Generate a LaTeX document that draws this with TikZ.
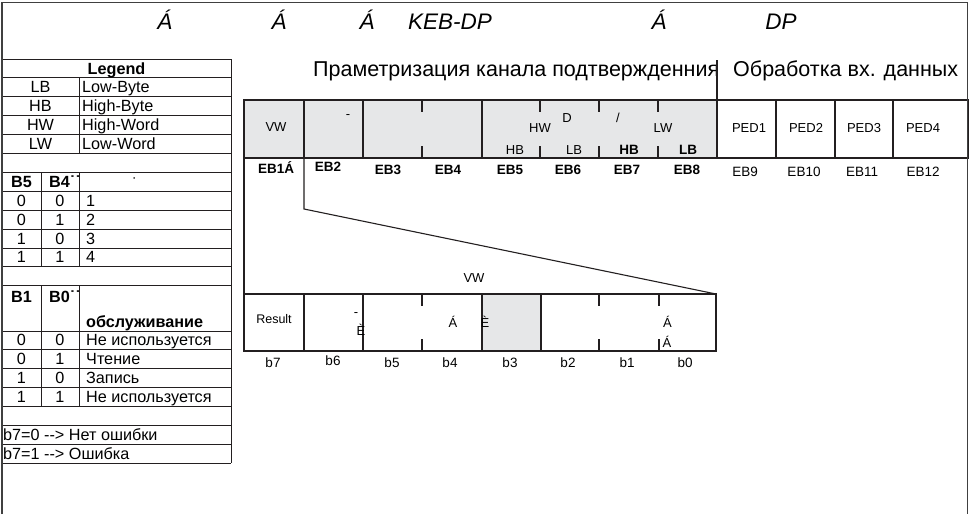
\documentclass[tikz,border=0pt]{standalone}
\usepackage{fontspec}
\setmainfont{Liberation Sans}
\definecolor{cellgray}{HTML}{E6E7E8}
\definecolor{linec}{HTML}{231F20}
\definecolor{framec}{HTML}{404040}
\begin{document}
\begin{tikzpicture}[x=1pt,y=-1pt,
 regcell/.style={draw=linec, line width=1.1pt, inner sep=0pt, outer sep=0pt, anchor=north west},
 graycell/.style={regcell, fill=cellgray},
 tickln/.style={draw=linec, line width=1.1pt},
 conn/.style={draw=linec, line width=1.1pt},
 tline/.style={draw=linec, line width=0.9pt},
 frameln/.style={draw=framec, line width=1.6pt},
 ttl/.style={inner sep=0pt, anchor=base, font=\fontsize{22.5}{27}\selectfont\itshape},
 hdr/.style={inner sep=0pt, anchor=base west, font=\fontsize{21.5}{26}\selectfont},
 leg/.style={inner sep=0pt, anchor=base, font=\fontsize{16.2}{19}\selectfont},
 legw/.style={leg, anchor=base west},
 legb/.style={inner sep=0pt, anchor=base, font=\fontsize{16.2}{19}\selectfont\bfseries},
 legbw/.style={legb, anchor=base west},
 ctxt/.style={inner sep=0pt, anchor=base, font=\fontsize{13}{16}\selectfont},
 ctxtb/.style={inner sep=0pt, anchor=base, font=\fontsize{13.5}{16}\selectfont\bfseries},
 ctxtl/.style={inner sep=0pt, anchor=base, font=\fontsize{13.5}{16}\selectfont},
 smalltxt/.style={inner sep=0pt, anchor=base, font=\fontsize{12.5}{15}\selectfont}
]
\useasboundingbox (0,0) rectangle (974,514);
\fill[white] (0,0) rectangle (974,514);

% ---------- title row ----------
\node[ttl] (ta1) at (165,29) {Á};
\node[ttl] (ta2) at (279,29) {Á};
\node[ttl] (ta3) at (367,29) {Á};
\node[ttl] (tkeb) at (450,29) {KEB-DP};
\node[ttl] (ta4) at (659,29) {Á};
\node[ttl] (tdp) at (781,29) {DP};

% ---------- headers ----------
\node[hdr] (hparam) at (313,76) {Праметризация канала подтвержденния};
\node[hdr] (hproc) at (733,76) {Обработка вх. данных};

% ---------- top register row ----------
\node[graycell, minimum width=60, minimum height=58] (c1) at (244,100) {};
\node[graycell, minimum width=59, minimum height=58] (c2) at (304,100) {};
\node[graycell, minimum width=119, minimum height=58] (c34) at (363,100) {};
\node[graycell, minimum width=235, minimum height=58] (c58) at (482,100) {};
\node[regcell, minimum width=59, minimum height=58] (p1) at (717,100) {};
\node[regcell, minimum width=59, minimum height=58] (p2) at (776,100) {};
\node[regcell, minimum width=58, minimum height=58] (p3) at (835,100) {};
\node[regcell, minimum width=75, minimum height=58] (p4) at (893,100) {};

\foreach \xx in {422,540,599,658} {
  \draw[tickln] (\xx,100) -- (\xx,112);
  \draw[tickln] (\xx,146) -- (\xx,158);
}

\coordinate (hsep) at (717,60);
\draw[conn] (hsep) -- (p1.north west);

\node[ctxt] (vw1) at (276,131) {VW};
\node[inner sep=0pt, font=\fontsize{13}{16}\selectfont] (dash1) at (348,117) {-};
\node[ctxt] (hw) at (540,132) {HW};
\node[ctxt] (dd) at (567,122) {D};
\node[ctxt] (sl) at (618,122) {/};
\node[ctxt] (lw) at (663,132) {LW};
\node[ctxt] (hb1) at (515,154) {HB};
\node[ctxt] (lb1) at (574,154) {LB};
\node[ctxtb] (hb2) at (629,154) {HB};
\node[ctxtb] (lb2) at (688,154) {LB};
\node[ctxt] (ped1) at (749,132) {PED1};
\node[ctxt] (ped2) at (806,132) {PED2};
\node[ctxt] (ped3) at (864,132) {PED3};
\node[ctxt] (ped4) at (923,132) {PED4};

% labels under top row
\node[ctxtb, anchor=base west] (eb1) at (258,173) {EB1Á};
\node[ctxtb] (eb2) at (328,171) {EB2};
\node[ctxtb] (eb3) at (388,174.5) {EB3};
\node[ctxtb] (eb4) at (448,174.5) {EB4};
\node[ctxtb] (eb5) at (510,174) {EB5};
\node[ctxtb] (eb6) at (568,174) {EB6};
\node[ctxtb] (eb7) at (627,174) {EB7};
\node[ctxtb] (eb8) at (687,174) {EB8};
\node[ctxtl] (eb9) at (745,176) {EB9};
\node[ctxtl] (eb10) at (804,176) {EB10};
\node[ctxtl] (eb11) at (862,176) {EB11};
\node[ctxtl] (eb12) at (923,176) {EB12};

% ---------- bit row ----------
\node[regcell, minimum width=60, minimum height=57] (r7) at (244,294) {};
\node[regcell, minimum width=59, minimum height=57] (r6) at (304,294) {};
\node[regcell, minimum width=119, minimum height=57] (r54) at (363,294) {};
\node[graycell, minimum width=59, minimum height=57] (r3) at (482,294) {};
\node[regcell, minimum width=175, minimum height=57] (r210) at (541,294) {};

\draw[tickln] (422,294) -- (422,306);
\draw[tickln] (422,339) -- (422,351);
\foreach \xx in {599,659} {
  \draw[tickln] (\xx,294) -- (\xx,306);
  \draw[tickln] (\xx,339) -- (\xx,351);
}

% connectors (funnel)
\coordinate (bend) at (304,209);
\draw[conn] (c1.south west) -- (r7.north west);
\draw[conn] (c1.south east) -- (bend) -- (r210.north east);

\node[ctxt] (vw2) at (474,282) {VW};

\node[smalltxt] (res) at (274,323) {Result};
\node[inner sep=0pt, font=\fontsize{13}{16}\selectfont] (dash2) at (356,315) {-};
\node[ctxt] (eg1) at (361,335) {È};
\node[ctxt] (aa1) at (453,327) {Á};
\node[ctxt] (eg2) at (485,327) {È};
\node[ctxt] (aa2) at (667.5,327) {Á};
\node[ctxt] (aa3) at (667,347) {Á};

\node[ctxtl] (b7) at (273,367) {b7};
\node[ctxtl] (b6) at (333,365) {b6};
\node[ctxtl] (b5) at (392,367) {b5};
\node[ctxtl] (b4) at (450,367) {b4};
\node[ctxtl] (b3) at (510,367) {b3};
\node[ctxtl] (b2) at (568,367) {b2};
\node[ctxtl] (b1) at (627,367) {b1};
\node[ctxtl] (b0) at (685,367) {b0};

% ---------- legend table ----------
\foreach \yy in {59,77.9,96.8,115.7,134.6,153.5,172.4,191.3,210.2,229.1,248,266.9,285.8,331,349.9,368.8,387.7,406.6,425.5,444.4,463.3}
  \draw[tline] (2,\yy) -- (231,\yy);
\draw[tline] (231,59) -- (231,463.3);
\draw[tline] (79,77.9) -- (79,153.5);
\draw[tline] (41,172.4) -- (41,266.9);
\draw[tline] (79,172.4) -- (79,266.9);
\draw[tline] (41,285.8) -- (41,406.6);
\draw[tline] (79,285.8) -- (79,406.6);

\node[legb] (lgd) at (116.5,74) {Legend};
\node[leg] (k1) at (40.5,92.8) {LB};  \node[legw] (v1) at (82,92.8) {Low-Byte};
\node[leg] (k2) at (40.5,111.7) {HB}; \node[legw] (v2) at (82,111.7) {High-Byte};
\node[leg] (k3) at (40.5,130.6) {HW}; \node[legw] (v3) at (82,130.6) {High-Word};
\node[leg] (k4) at (40.5,149.5) {LW}; \node[legw] (v4) at (82,149.5) {Low-Word};

\node[legb] (hb5) at (21.5,187.3) {B5};
\node[legbw] (hb4) at (49,187.3) {B4˙˙};
\node[leg] (hdot) at (135,189) {˙};
\foreach \a/\b/\c/\yy [count=\i] in {0/0/1/206.2, 0/1/2/225.1, 1/0/3/244.0, 1/1/4/262.9} {
  \node[leg] (sa\i) at (21.5,\yy) {\a};
  \node[leg] (sb\i) at (60,\yy) {\b};
  \node[legw] (sc\i) at (86,\yy) {\c};
}

\node[legb] (hb1) at (21.5,302.5) {B1};
\node[legbw] (hb0) at (49,302.5) {B0˙˙};
\node[legbw] (hobs) at (86,327.5) {обслуживание};
\foreach \a/\b/\c/\yy [count=\i] in {0/0/Не используется/345.9, 0/1/Чтение/364.8, 1/0/Запись/383.7, 1/1/Не используется/402.6} {
  \node[leg] (ma\i) at (21.5,\yy) {\a};
  \node[leg] (mb\i) at (60,\yy) {\b};
  \node[legw] (mc\i) at (86,\yy) {\c};
}
\node[legw] (err0) at (3,440.5) {b7=0 -{}-> Нет ошибки};
\node[legw] (err1) at (3,459.4) {b7=1 -{}-> Ошибка};

% ---------- outer frame ----------
\draw[frameln] (2,514) -- (2,2.5) -- (967.5,2.5) -- (967.5,514);
\end{tikzpicture}
\end{document}
